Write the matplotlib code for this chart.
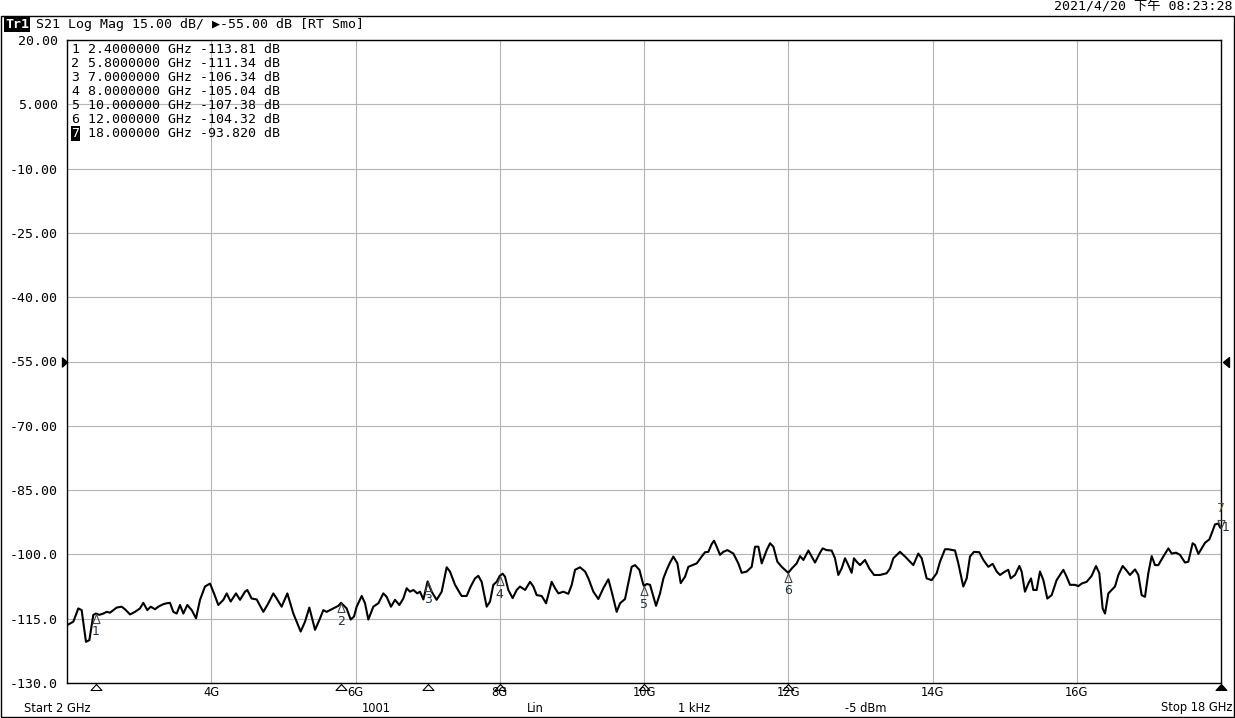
import matplotlib
matplotlib.use("Agg")
import matplotlib.pyplot as plt
from matplotlib.patches import Rectangle
from matplotlib.transforms import offset_copy

# ---------------- data ----------------
trace_ghz = [
    2.000, 2.088, 2.157, 2.203, 2.263, 2.310, 2.365, 2.400, 2.448, 2.504, 2.550, 2.596, 2.642, 2.689,
    2.758, 2.804, 2.874, 2.943, 3.012, 3.058, 3.114, 3.160, 3.220, 3.266, 3.336, 3.382, 3.428, 3.474,
    3.521, 3.567, 3.613, 3.668, 3.729, 3.789, 3.844, 3.913, 3.983, 4.038, 4.098, 4.168, 4.214, 4.269,
    4.343, 4.399, 4.468, 4.500, 4.560, 4.630, 4.722, 4.792, 4.861, 4.907, 4.976, 5.055, 5.138, 5.240,
    5.300, 5.360, 5.439, 5.499, 5.554, 5.600, 5.693, 5.762, 5.800, 5.877, 5.933, 5.979, 6.016, 6.086,
    6.132, 6.178, 6.247, 6.317, 6.386, 6.432, 6.492, 6.548, 6.608, 6.663, 6.709, 6.756, 6.802, 6.857,
    6.894, 6.941, 7.000, 7.056, 7.125, 7.195, 7.264, 7.310, 7.380, 7.449,
    7.472, 7.541, 7.597, 7.657, 7.703, 7.749, 7.819, 7.865, 7.911, 7.957, 8.000, 8.040, 8.073, 8.119,
    8.179, 8.235, 8.281, 8.351, 8.420, 8.466, 8.512, 8.582, 8.642, 8.720, 8.767, 8.813, 8.882, 8.951,
    8.998, 9.044, 9.113, 9.183, 9.229, 9.298, 9.367, 9.436, 9.506, 9.552, 9.621, 9.668, 9.737, 9.783,
    9.829, 9.876, 9.936, 9.991, 10.000, 10.038, 10.084, 10.167, 10.222, 10.269, 10.315, 10.361, 10.407,
    10.463, 10.509, 10.569, 10.615, 10.675, 10.731, 10.800, 10.846, 10.892, 10.938, 10.971, 11.008,
    11.054, 11.100, 11.156, 11.239, 11.308, 11.355, 11.424, 11.493, 11.540, 11.586, 11.632, 11.701,
    11.748, 11.794, 11.849, 11.909, 12.000, 12.048, 12.117, 12.163, 12.210, 12.279, 12.325, 12.371,
    12.441,
    12.477, 12.532, 12.602, 12.648, 12.694, 12.740, 12.787, 12.833, 12.879, 12.911, 12.948, 12.995,
    13.064, 13.124, 13.189, 13.272, 13.364, 13.411, 13.457, 13.549, 13.619, 13.688, 13.734, 13.803,
    13.850, 13.919, 13.988, 14.058, 14.104, 14.173, 14.219, 14.312, 14.358, 14.427, 14.474, 14.520,
    14.575, 14.649, 14.705, 14.774, 14.834, 14.890, 14.936, 15.005, 15.051, 15.084, 15.144, 15.204,
    15.236, 15.282, 15.329, 15.366, 15.398, 15.444, 15.490, 15.537, 15.592, 15.652, 15.721, 15.814,
    15.860, 15.906, 15.976, 16.022, 16.068, 16.137, 16.207, 16.267, 16.313, 16.359, 16.392, 16.438,
    16.484, 16.530, 16.577, 16.637, 16.683, 16.738, 16.808, 16.854, 16.900, 16.946, 16.992, 17.039,
    17.085, 17.131, 17.200, 17.270, 17.316, 17.376, 17.431, 17.501, 17.547, 17.607, 17.639, 17.686,
    17.732, 17.778, 17.838, 17.871, 17.917, 17.963, 17.986, 18.000,
]
trace_db = [
    -116.5, -115.7, -112.6, -113.0, -120.4, -120.0, -114.1, -113.8, -114.1, -113.8, -113.4, -113.6, -113.0, -112.4,
    -112.2, -112.8, -114.0, -113.4, -112.6, -111.3, -113.0, -112.2, -112.8, -112.2, -111.6, -111.4, -111.3, -113.4,
    -113.8, -111.8, -113.8, -111.8, -113.0, -114.9, -110.6, -107.5, -106.8, -109.1, -111.8, -110.6, -109.1, -111.0,
    -109.1, -110.6, -108.7, -108.3, -110.3, -110.5, -113.4, -111.4, -109.1, -110.3, -112.2, -109.1, -113.8, -118.0,
    -115.7, -112.4, -117.6, -115.3, -113.0, -113.4, -112.6, -112.0, -111.3, -112.6, -115.2, -114.5, -112.2, -109.7,
    -111.4, -115.2, -112.2, -111.4, -109.1, -109.9, -112.2, -110.6, -111.8, -110.3, -107.9, -108.7, -108.3, -109.1,
    -108.7, -110.5, -106.3, -108.7, -110.6, -108.7, -103.0, -104.0, -107.1, -109.1,
    -109.7, -109.7, -107.5, -105.6, -105.0, -106.4, -112.2, -111.0, -107.1, -106.4, -105.0, -104.5, -105.2, -108.3,
    -110.2, -108.3, -107.5, -108.3, -106.4, -107.5, -109.5, -109.7, -111.4, -106.4, -107.9, -109.1, -108.7, -109.2,
    -107.1, -103.6, -103.0, -104.0, -105.6, -108.7, -110.4, -107.9, -105.8, -108.7, -113.4, -111.4, -110.4, -106.7,
    -102.9, -102.5, -103.6, -107.1, -107.4, -106.9, -107.1, -112.0, -109.1, -105.6, -103.6, -101.9, -100.5,
    -102.1, -106.7, -105.2, -102.9, -102.5, -102.1, -100.5, -99.5, -99.4, -97.6, -96.8, -98.2,
    -100.1, -99.4, -99.0, -99.8, -102.1, -104.3, -104.0, -102.9, -98.2, -98.2, -102.1, -99.0,
    -97.4, -98.2, -101.7, -102.9, -104.3, -103.3, -102.1, -100.4, -101.3, -99.1, -100.5, -101.9,
    -99.6,
    -98.6, -99.0, -99.1, -100.9, -104.8, -103.3, -100.9, -102.5, -104.3, -100.9, -101.7, -102.5,
    -101.3, -103.3, -104.8, -104.8, -104.4, -103.3, -100.9, -99.4, -100.5, -101.7, -102.5, -99.8,
    -100.9, -105.6, -106.0, -104.4, -101.7, -98.8, -98.8, -99.1, -102.1, -107.5, -105.6, -100.5,
    -99.4, -99.5, -101.3, -102.9, -102.2, -104.0, -104.8, -104.0, -103.6, -105.6, -104.8, -102.7,
    -104.0, -108.7, -106.8, -105.6, -108.3, -108.3, -104.0, -106.0, -110.3, -109.5, -106.0, -103.6,
    -105.2, -107.1, -107.1, -107.4, -106.8, -106.4, -105.0, -102.7, -104.4, -112.6, -113.8, -109.1,
    -108.3, -107.5, -104.8, -102.7, -103.6, -104.8, -103.5, -104.8, -109.5, -109.9, -104.4, -100.4,
    -102.5, -102.5, -100.5, -98.6, -99.8, -99.6, -100.1, -101.9, -101.7, -97.4, -97.8, -99.9,
    -98.6, -97.3, -96.5, -95.1, -93.0, -92.8, -93.7, -93.82,
]

marker_ids = [1, 2, 3, 4, 5, 6, 7]
marker_ghz = [2.4, 5.8, 7.0, 8.0, 10.0, 12.0, 18.0]
marker_db = [-113.81, -111.34, -106.34, -105.04, -107.38, -104.32, -93.82]
active_marker = 7

y_ticks = [20, 5, -10, -25, -40, -55, -70, -85, -100, -115, -130]
y_tick_labels = ["20.00", "5.000", "-10.00", "-25.00", "-40.00", "-55.00",
                 "-70.00", "-85.00", "-100.0", "-115.0", "-130.0"]
x_ticks = [4, 6, 8, 10, 12, 14, 16]
x_tick_labels = ["4G", "6G", "8G", "10G", "12G", "14G", "16G"]
ref_level = -55.0

header_text = "S21 Log Mag 15.00 dB/ \u25b6-55.00 dB [RT Smo]"
date_text = "2021/4/20 下午 08:23:28"
footer_items = [("Start 2 GHz", 24, "left"), ("1001", 376, "center"), ("Lin", 535, "center"),
                ("1 kHz", 694, "center"), ("-5 dBm", 866, "center"), ("Stop 18 GHz", 1232, "right")]

# ---------------- figure ----------------
W, H = 1235, 718
fig = plt.figure(figsize=(W / 100, H / 100), dpi=100)
fig.patch.set_facecolor("white")

def fx(px):
    return px / W

def fy(py):
    return 1 - py / H

L, R, T, B = 67, 1221, 40, 683
ax = fig.add_axes([fx(L), fy(B), (R - L) / W, (B - T) / H])
ax.set_xlim(2, 18)
ax.set_ylim(-130, 20)

MONO = ["DejaVu Sans Mono", "DejaVu Sans"]
SANS = ["DejaVu Sans"]

ax.set_yticks(y_ticks)
ax.set_yticklabels(y_tick_labels, family=MONO, fontsize=9.5)
ax.set_xticks(x_ticks)
ax.set_xticklabels(x_tick_labels, family=SANS, fontsize=8.3)
ax.tick_params(axis="both", length=0, colors="black")
ax.tick_params(axis="y", pad=6.5)
ax.tick_params(axis="x", pad=2.5)
ax.grid(True, color="#b4b4b4", linewidth=0.8)
ax.set_axisbelow(True)
for s in ax.spines.values():
    s.set_color("black")
    s.set_linewidth(1.0)

ax.plot(trace_ghz, trace_db, color="black", linewidth=1.5, zorder=3, solid_joinstyle="round")

# markers on trace
lab_col = "#1e3446"
tri_up = [(0, 0), (-3.5, -9), (3.5, -9), (0, 0)]
tri_dn = [(0, 0), (-3.5, 8), (3.5, 8), (0, 0)]
for mid, f, v in zip(marker_ids, marker_ghz, marker_db):
    if mid == active_marker:
        ax.plot([f], [v], marker=tri_dn, markersize=11.5, mfc="none", mec="#444444",
                mew=0.8, clip_on=False, zorder=4)
        ax.annotate(str(mid), (f, v), xytext=(0, 19), textcoords="offset pixels",
                    ha="center", va="center", fontsize=9, color="#6a4a20", annotation_clip=False)
        ax.annotate("1", (f, v), xytext=(5, 0), textcoords="offset pixels",
                    ha="center", va="center", fontsize=9, color=lab_col, annotation_clip=False)
    else:
        ax.plot([f], [v], marker=tri_up, markersize=13, mfc="none", mec="#444444",
                mew=0.8, clip_on=False, zorder=4)
        ax.annotate(str(mid), (f, v), xytext=(0, -18), textcoords="offset pixels",
                    ha="center", va="center", fontsize=9, color=lab_col, annotation_clip=False)

# marker triangles under the x axis
xb = ax.get_xaxis_transform()
xb_off = offset_copy(xb, fig=fig, x=0, y=-1, units="dots")
tri_b = [(0, 0), (-5.5, -6), (5.5, -6), (0, 0)]
for mid, f in zip(marker_ids, marker_ghz):
    filled = mid == active_marker
    ax.plot([f], [0], marker=tri_b, markersize=8.6, transform=xb_off,
            mfc="black" if filled else "none", mec="black", mew=0.8, clip_on=False, zorder=5)

# reference level arrows
yl = ax.get_yaxis_transform()
ax.plot([0], [ref_level], marker=[(0, 0), (-5, 4.5), (-5, -4.5), (0, 0)], markersize=7.2,
        color="black", transform=offset_copy(yl, fig=fig, x=-0.5, y=0, units="dots"), clip_on=False)
ax.plot([1], [ref_level], marker=[(0, 0), (6, 5), (6, -5), (0, 0)], markersize=8.6,
        color="black", transform=offset_copy(yl, fig=fig, x=1.5, y=0, units="dots"), clip_on=False)

# outer frame
fig.patches.append(Rectangle((fx(0.5), fy(716.5)), fx(1234) - fx(0.5), fy(15.7) - fy(716.5),
                             transform=fig.transFigure, fill=False, edgecolor="black", linewidth=1.0))

# header
fig.text(fx(5), fy(24.5), "Tr1", family=MONO, fontsize=9.5, fontweight="bold", color="white",
         va="center", ha="left", bbox=dict(facecolor="black", edgecolor="none", pad=0.8))
fig.text(fx(36), fy(24.5), header_text, family=MONO, fontsize=9.5, va="center", ha="left")
fig.text(fx(1233), fy(7), date_text, family=["DejaVu Sans Mono", "Noto Sans CJK SC"],
         fontsize=9.5, va="center", ha="right")

# marker table
for i, (mid, f, v) in enumerate(zip(marker_ids, marker_ghz, marker_db)):
    fdec = 8 - len(str(int(f)))
    vdec = 5 - len(str(int(abs(v))))
    line = f"{f:.{fdec}f} GHz {v:.{vdec}f} dB"
    yy = 49.5 + i * 14.0
    if mid == active_marker:
        fig.text(fx(71.5), fy(yy), str(mid), family=MONO, fontsize=9.5, color="white",
                 va="center", ha="left", bbox=dict(facecolor="black", edgecolor="none", pad=0.5))
    else:
        fig.text(fx(71.5), fy(yy), str(mid), family=MONO, fontsize=9.5, va="center", ha="left")
    fig.text(fx(87.5), fy(yy), line, family=MONO, fontsize=9.5, va="center", ha="left")

# footer
for txt, xp, ha in footer_items:
    fig.text(fx(xp), fy(708), txt, family=SANS, fontsize=8.3, va="center", ha=ha)

fig.savefig("out.png", dpi=100)
